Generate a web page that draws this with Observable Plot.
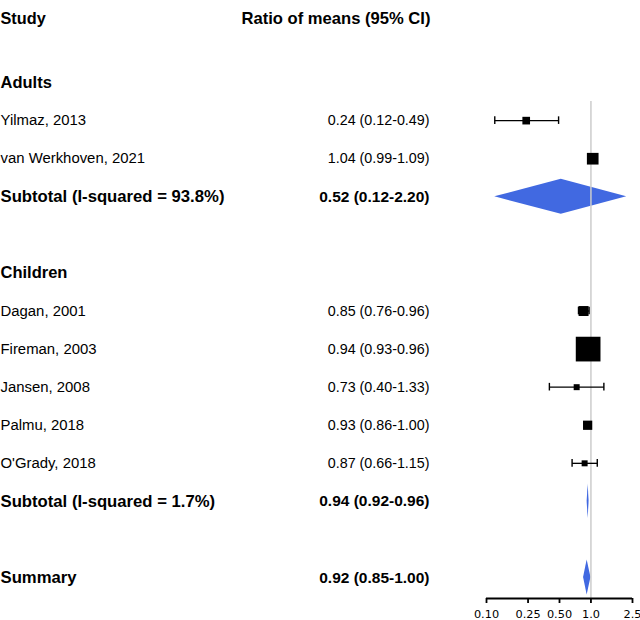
<!DOCTYPE html>
<html>
<head>
<meta charset="utf-8">
<script src="https://cdn.jsdelivr.net/npm/d3@7"></script>
<script src="https://cdn.jsdelivr.net/npm/@observablehq/plot@0.6"></script>
<style>
  html, body { margin: 0; padding: 0; background: #fff; }
  #chart svg { display: block; }
</style>
</head>
<body>
<div id="chart"></div>
<script>
// ---- Data ----
const headers = ["Study", "Ratio of means (95% CI)"];
const groupNames = ["Adults", "Children"];

const studies = ["Yilmaz, 2013", "van Werkhoven, 2021", "Dagan, 2001", "Fireman, 2003", "Jansen, 2008", "Palmu, 2018", "O'Grady, 2018"];
const studyGroup = ["Adults", "Adults", "Children", "Children", "Children", "Children", "Children"];
const studyEst = [0.24, 1.04, 0.85, 0.94, 0.73, 0.93, 0.87];
const studyLo  = [0.12, 0.99, 0.76, 0.93, 0.40, 0.86, 0.66];
const studyHi  = [0.49, 1.09, 0.96, 0.96, 1.33, 1.00, 1.15];
const studyWeight = [5.9, 13.7, 10.0, 61.5, 3.6, 8.6, 3.6];

const pooledLabels = ["Subtotal (I-squared = 93.8%)", "Subtotal (I-squared = 1.7%)", "Summary"];
const pooledEst = [0.52, 0.94, 0.92];
const pooledLo  = [0.12, 0.92, 0.85];
const pooledHi  = [2.20, 0.96, 1.00];

const tickValues = [0.1, 0.25, 0.5, 1, 2.5];
const tickLabels = ["0.10", "0.25", "0.50", "1.0", "2.5"];

// Row layout (order of lines in the table, blanks are spacer rows)
const rowOrder = ["Adults", "Yilmaz, 2013", "van Werkhoven, 2021", "Subtotal (I-squared = 93.8%)", "",
  "Children", "Dagan, 2001", "Fireman, 2003", "Jansen, 2008", "Palmu, 2018", "O'Grady, 2018",
  "Subtotal (I-squared = 1.7%)", "", "Summary"];
const rowOf = label => rowOrder.indexOf(label);

// ---- Derived tables ----
const fmt = v => v.toFixed(2);
const studyRows = studies.map((s, i) => ({
  label: s, row: rowOf(s), est: studyEst[i], lo: studyLo[i], hi: studyHi[i], w: studyWeight[i],
  value: `${fmt(studyEst[i])} (${fmt(studyLo[i])}-${fmt(studyHi[i])})`
}));
const pooledRows = pooledLabels.map((s, i) => ({
  label: s, row: rowOf(s), est: pooledEst[i], lo: pooledLo[i], hi: pooledHi[i],
  value: `${fmt(pooledEst[i])} (${fmt(pooledLo[i])}-${fmt(pooledHi[i])})`
}));
const groupRows = groupNames.map(g => ({label: g, row: rowOf(g)}));

const half = 0.46;   // diamond half-height in rows
const cap = 0.1;     // whisker cap half-height in rows
const diamondPts = pooledRows.flatMap(d => [
  {z: d.label, x: d.lo, y1: d.row, y2: d.row},
  {z: d.label, x: d.est, y1: d.row - half, y2: d.row + half},
  {z: d.label, x: d.hi, y1: d.row, y2: d.row}
]);

const yMin = -1.84, yMax = 13.55;
const maxW = d3.max(studyWeight);
const FONT = "Liberation Sans, Arial, sans-serif";

const chart = Plot.plot({
  width: 640,
  height: 620,
  marginLeft: 486,
  marginRight: 8,
  marginTop: 12,
  marginBottom: 22,
  style: {fontFamily: FONT, fontSize: "15px", color: "black", background: "white", overflow: "visible"},
  x: {type: "log", domain: [0.1, 2.5], axis: null},
  y: {type: "linear", domain: [yMin, yMax], reverse: true, axis: null},
  r: {type: "sqrt", domain: [0, maxW], range: [0, 13.94]},
  marks: [
    // diamonds
    Plot.areaY(diamondPts, {x: "x", y1: "y1", y2: "y2", z: "z", fill: "#4169E1", curve: "linear"}),
    // reference line at 1
    Plot.ruleX([1], {y1: rowOf("Adults") + 0.5, y2: yMax, stroke: "#cccccc", strokeWidth: 1.5}),
    // CIs
    Plot.link(studyRows, {x1: "lo", x2: "hi", y1: "row", y2: "row", stroke: "black", strokeWidth: 1.3}),
    Plot.ruleX(studyRows, {x: "lo", y1: d => d.row - cap, y2: d => d.row + cap, stroke: "black", strokeWidth: 1.4}),
    Plot.ruleX(studyRows, {x: "hi", y1: d => d.row - cap, y2: d => d.row + cap, stroke: "black", strokeWidth: 1.4}),
    // weighted squares
    Plot.dot(studyRows, {x: "est", y: "row", r: "w", symbol: "square", fill: "black", stroke: "none"}),
    // axis line and ticks
    Plot.ruleY([yMax], {stroke: "black", strokeWidth: 1.8}),
    Plot.axisX({ticks: tickValues, tickFormat: d => tickLabels[tickValues.indexOf(d)], tickSize: 5, tickPadding: 6,
      fontSize: 11.3, fontFamily: "DejaVu Sans, sans-serif", fill: "black", stroke: "black", strokeWidth: 1.8, strokeOpacity: 1}),
    // header
    Plot.text([headers[0]], {frameAnchor: "top-left", dx: -486, text: d => d, textAnchor: "start", fontWeight: "bold", fontSize: 16.3, fill: "black"}),
    Plot.text([headers[1]], {frameAnchor: "top-left", dx: -56, text: d => d, textAnchor: "end", fontWeight: "bold", fontSize: 16.6, fill: "black"}),
    // group labels
    Plot.text(groupRows, {y: "row", text: "label", frameAnchor: "left", dx: -486, textAnchor: "start", fontWeight: "bold", fontSize: 16.5, fill: "black"}),
    // study labels and values
    Plot.text(studyRows, {y: "row", text: "label", frameAnchor: "left", dx: -486, textAnchor: "start", fontSize: 14.9, fill: "black"}),
    Plot.text(studyRows, {y: "row", text: "value", frameAnchor: "left", dx: -57, textAnchor: "end", fontSize: 14.3, fill: "black"}),
    // pooled labels and values
    Plot.text(pooledRows, {y: "row", text: "label", frameAnchor: "left", dx: -486, textAnchor: "start", fontWeight: "bold", fontSize: 16.7, fill: "black"}),
    Plot.text(pooledRows, {y: "row", text: "value", frameAnchor: "left", dx: -57, textAnchor: "end", fontWeight: "bold", fontSize: 15.5, fill: "black"})
  ]
});

document.getElementById("chart").append(chart);
</script>
</body>
</html>
